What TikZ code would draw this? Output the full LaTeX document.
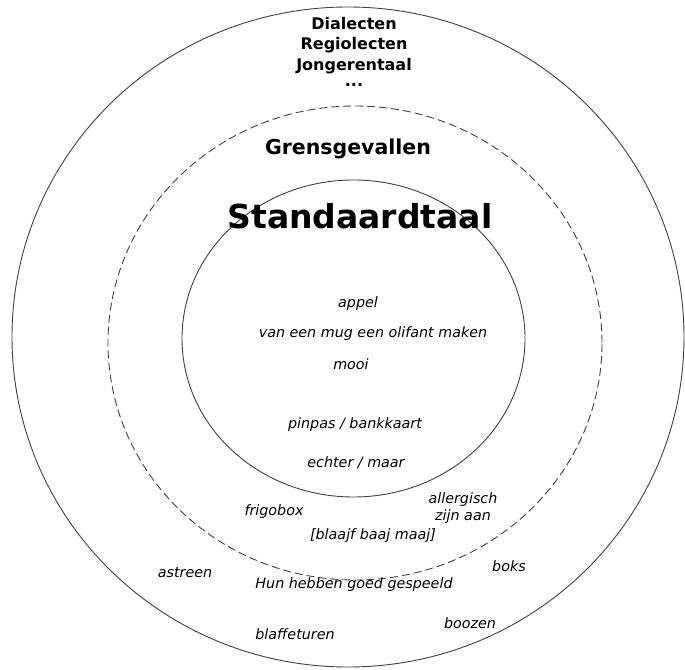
\documentclass[tikz,border=0pt]{standalone}
\usepackage{fontspec}
\setmainfont{DejaVu Sans}
\begin{document}
\begin{tikzpicture}[x=1pt,y=1pt,
    ring/.style={draw=black!75,line width=0.9pt},
    word/.style={font=\fontsize{14.3}{17}\selectfont\itshape,inner sep=0pt},
    head/.style={font=\fontsize{16}{19}\selectfont\bfseries,inner sep=0pt,align=center}]
    \useasboundingbox (0,0) rectangle (685,669);
    %circles
    \draw[ring] (348,332) ellipse [x radius=336, y radius=330];
    \draw[ring,dash pattern=on 8pt off 4pt] (355,326) ellipse [x radius=247, y radius=237];
    \draw[ring] (353.5,330.5) ellipse [x radius=171.5, y radius=158.5];
    %headings
    \node[head] (dialect) at (354,645) {Dialecten};
    \node[head] (regio) at (354,624) {Regiolecten};
    \node[head] (jong) at (354,603) {Jongerentaal};
    \node[head] (dots) at (354,584) {...};
    \node[head,font=\fontsize{20.5}{24}\selectfont\bfseries] (grens) at (348,520) {Grensgevallen};
    \node[head,font=\fontsize{33}{38}\selectfont\bfseries] (standaard) at (360,453) {Standaardtaal};
    %inner words
    \node[word] (appel) at (358,365) {appel};
    \node[word] (mug) at (373,335) {van een mug een olifant maken};
    \node[word] (mooi) at (351,305) {mooi};
    \node[word] (pinpas) at (355,244) {pinpas / bankkaart};
    \node[word] (echter) at (356,206) {echter / maar};
    %border cases
    \node[word] (frigo) at (274,157) {frigobox};
    \node[word,align=center] (allerg) at (463,161) {allergisch\\zijn aan};
    \node[word] (blaajf) at (373,133) {[blaajf baaj maaj]};
    %outer words
    \node[word] (astreen) at (185,96) {astreen};
    \node[word] (boks) at (509,103) {boks};
    \node[word] (hun) at (354,84) {Hun hebben goed gespeeld};
    \node[word] (boozen) at (470,46) {boozen};
    \node[word] (blaf) at (295,35) {blaffeturen};
\end{tikzpicture}
\end{document}
